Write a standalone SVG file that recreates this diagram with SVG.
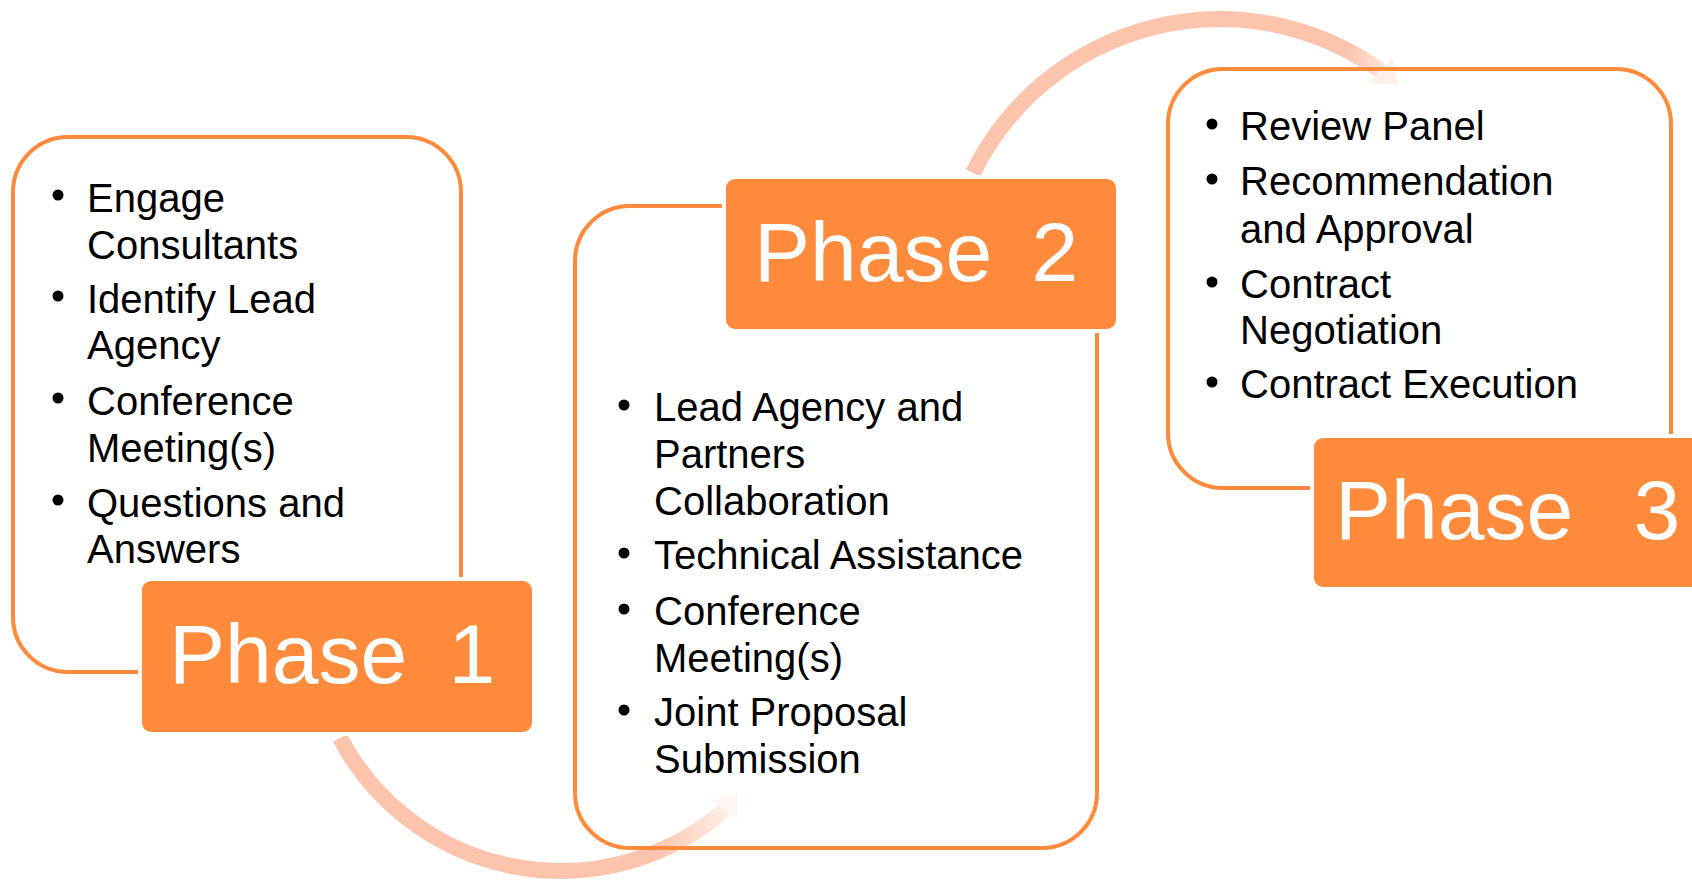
<svg xmlns="http://www.w3.org/2000/svg" width="1692" height="885" viewBox="0 0 1692 885">
<style>
.outline{fill:none;stroke:#FE8A3B;stroke-width:4}
.phase{fill:#FE8A3B;stroke:#FFFFFF;stroke-width:4}
.ptxt{font-family:"Liberation Sans",Arial,sans-serif;font-size:84px;fill:#FFFFFF}
.item{font-family:"Liberation Sans",Arial,sans-serif;font-size:40px;fill:#000000}
.bullet{fill:#000000}
.band{fill:none;stroke-width:16}
</style>
<defs>
<linearGradient id="g1" gradientUnits="userSpaceOnUse" x1="650" y1="850" x2="738" y2="800">
<stop offset="0" stop-color="#FCC3AD"/>
<stop offset="1" stop-color="#FFF6F2"/>
</linearGradient>
<linearGradient id="g2" gradientUnits="userSpaceOnUse" x1="1345" y1="50" x2="1395" y2="80">
<stop offset="0" stop-color="#FCC3AD"/>
<stop offset="1" stop-color="#FFF0EA"/>
</linearGradient>
</defs>
<rect width="1692" height="885" fill="#FFFFFF"/>
<g id="connectors">
<path class="band" stroke="url(#g1)" d="M340 738 A250 250 0 0 0 724.5 810"/>
<polygon points="712,800 738,793 737,820" fill="#FFF6F2"/>
<path class="band" stroke="url(#g2)" d="M973 173 A275 275 0 0 1 1380 70.5"/>
<polygon points="1392,58 1368,83 1398,85" fill="#FFF0EA"/>
</g>
<g id="node-phase1">
<rect class="outline" x="13" y="137" width="448" height="535" rx="55"/>
<circle class="bullet" cx="58" cy="195" r="5.5"/>
<circle class="bullet" cx="58" cy="296" r="5.5"/>
<circle class="bullet" cx="58" cy="398" r="5.5"/>
<circle class="bullet" cx="58" cy="500" r="5.5"/>
<text class="item" x="87" y="212">Engage</text>
<text class="item" x="87" y="259">Consultants</text>
<text class="item" x="87" y="313">Identify Lead</text>
<text class="item" x="87" y="359">Agency</text>
<text class="item" x="87" y="415">Conference</text>
<text class="item" x="87" y="462">Meeting(s)</text>
<text class="item" x="87" y="517">Questions and</text>
<text class="item" x="87" y="563">Answers</text>
<rect class="phase" x="140" y="579" width="394" height="155" rx="11"/>
<text class="ptxt" x="169" y="683" word-spacing="18">Phase 1</text>
</g>
<g id="node-phase2">
<rect class="outline" x="575" y="206" width="522" height="642" rx="55"/>
<circle class="bullet" cx="624" cy="405" r="5.5"/>
<circle class="bullet" cx="624" cy="553" r="5.5"/>
<circle class="bullet" cx="624" cy="609" r="5.5"/>
<circle class="bullet" cx="624" cy="710" r="5.5"/>
<text class="item" x="654" y="421">Lead Agency and</text>
<text class="item" x="654" y="468">Partners</text>
<text class="item" x="654" y="515">Collaboration</text>
<text class="item" x="654" y="569">Technical Assistance</text>
<text class="item" x="654" y="625">Conference</text>
<text class="item" x="654" y="672">Meeting(s)</text>
<text class="item" x="654" y="726">Joint Proposal</text>
<text class="item" x="654" y="773">Submission</text>
<rect class="phase" x="724" y="177" width="394" height="154" rx="11"/>
<text class="ptxt" x="754" y="281" word-spacing="16">Phase 2</text>
</g>
<g id="node-phase3">
<rect class="outline" x="1168" y="69" width="503" height="419" rx="55"/>
<circle class="bullet" cx="1212" cy="124" r="5.5"/>
<circle class="bullet" cx="1212" cy="179" r="5.5"/>
<circle class="bullet" cx="1212" cy="282" r="5.5"/>
<circle class="bullet" cx="1212" cy="382" r="5.5"/>
<text class="item" x="1240" y="140">Review Panel</text>
<text class="item" x="1240" y="195">Recommendation</text>
<text class="item" x="1240" y="243">and Approval</text>
<text class="item" x="1240" y="298">Contract</text>
<text class="item" x="1240" y="344">Negotiation</text>
<text class="item" x="1240" y="398">Contract Execution</text>
<rect class="phase" x="1312" y="436" width="400" height="153" rx="11"/>
<text class="ptxt" x="1335" y="539" word-spacing="37">Phase 3</text>
</g>
</svg>
